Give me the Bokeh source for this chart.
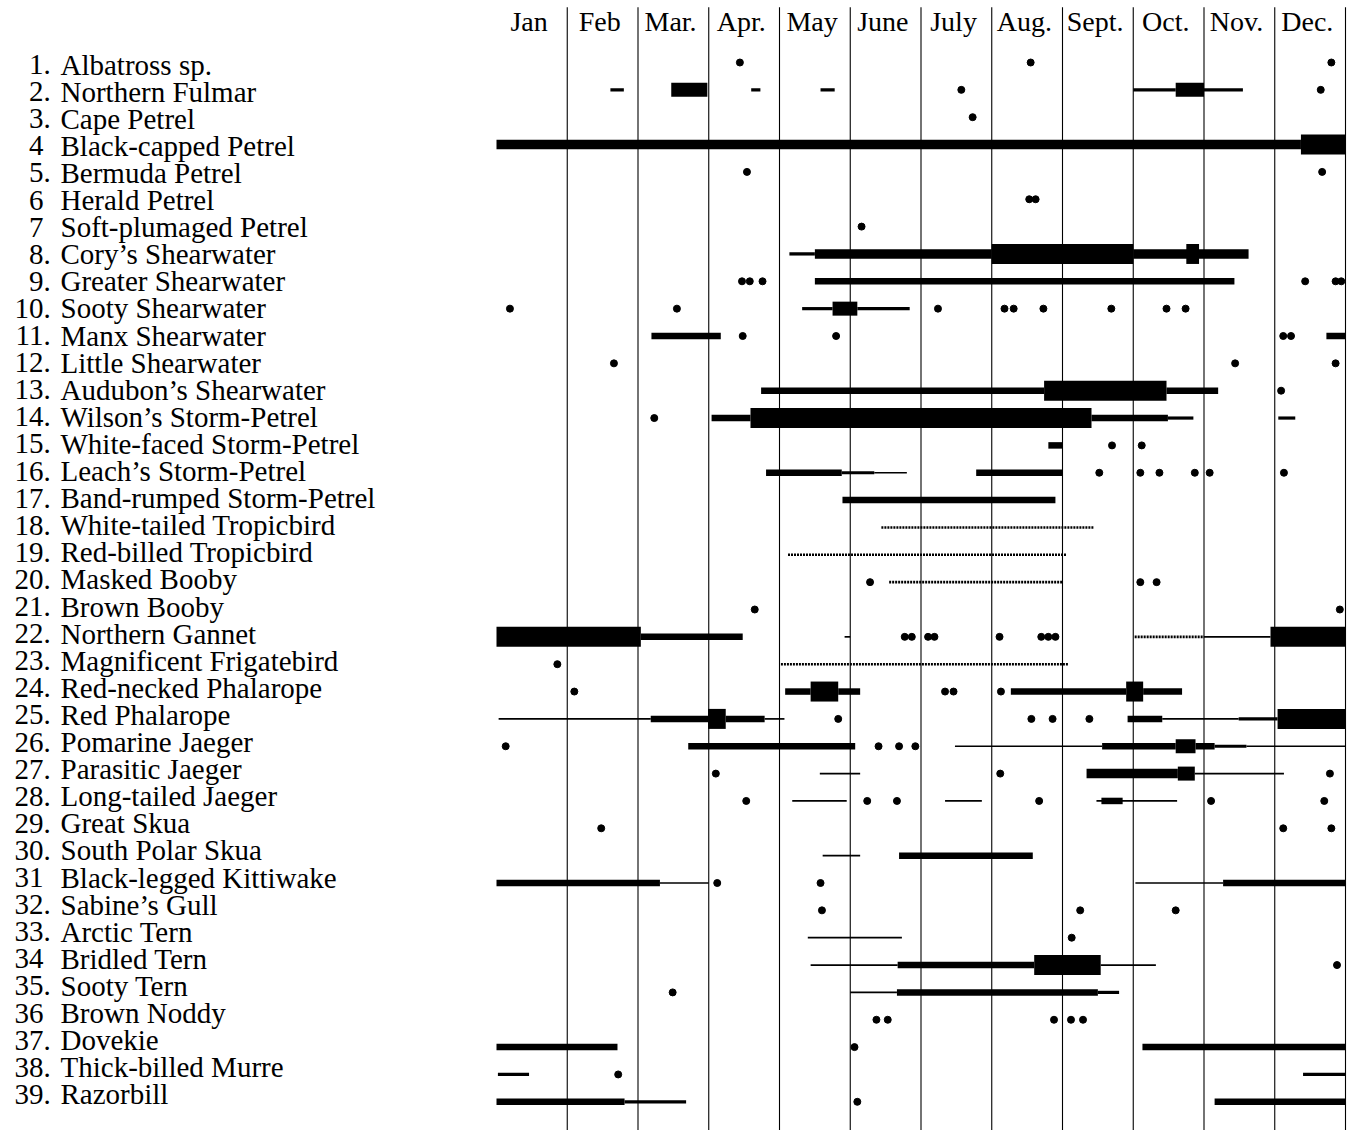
from bokeh.plotting import figure
from bokeh.models import ColumnDataSource, Range1d
from bokeh.embed import file_html
from bokeh.resources import INLINE
from bokeh.core.properties import value

# ---------------- data ----------------
months = ["Jan", "Feb", "Mar.", "Apr.", "May", "June", "July", "Aug.",
          "Sept.", "Oct.", "Nov.", "Dec."]

row_numbers = ["1.", "2.", "3.", "4", "5.", "6", "7", "8.", "9.", "10.",
               "11.", "12.", "13.", "14.", "15.", "16.", "17.", "18.", "19.", "20.",
               "21.", "22.", "23.", "24.", "25.", "26.", "27.", "28.", "29.", "30.",
               "31", "32.", "33.", "34", "35.", "36", "37.", "38.", "39."]

species = ["Albatross sp.", "Northern Fulmar", "Cape Petrel", "Black-capped Petrel",
           "Bermuda Petrel", "Herald Petrel", "Soft-plumaged Petrel", "Cory\u2019s Shearwater",
           "Greater Shearwater", "Sooty Shearwater", "Manx Shearwater", "Little Shearwater",
           "Audubon\u2019s Shearwater", "Wilson\u2019s Storm-Petrel", "White-faced Storm-Petrel",
           "Leach\u2019s Storm-Petrel", "Band-rumped Storm-Petrel", "White-tailed Tropicbird",
           "Red-billed Tropicbird", "Masked Booby", "Brown Booby", "Northern Gannet",
           "Magnificent Frigatebird", "Red-necked Phalarope", "Red Phalarope",
           "Pomarine Jaeger", "Parasitic Jaeger", "Long-tailed Jaeger", "Great Skua",
           "South Polar Skua", "Black-legged Kittiwake", "Sabine\u2019s Gull", "Arctic Tern",
           "Bridled Tern", "Sooty Tern", "Brown Noddy", "Dovekie", "Thick-billed Murre",
           "Razorbill"]

# occurrence periods: (row, start month, end month, abundance level)
# month scale: 0 = 1 Jan, 12 = 31 Dec ; levels L1 (rare) .. L6 (abundant), D = irregular
ranges = [
    (2, 1.61, 1.80, "L2"), (2, 2.47, 2.98, "L5"), (2, 3.60, 3.73, "L2"), (2, 4.58, 4.78, "L2"),
    (2, 9.00, 9.60, "L2"), (2, 9.60, 10.00, "L5"), (2, 10.00, 10.55, "L2"),
    (4, 0.00, 11.37, "L4"), (4, 11.37, 12.00, "L6"),
    (8, 4.14, 4.50, "L2"), (8, 4.50, 7.00, "L4"), (8, 7.00, 9.00, "L6"), (8, 9.00, 10.63, "L4"),
    (8, 9.75, 9.93, "L6"),
    (9, 4.50, 10.43, "L3"),
    (10, 4.32, 4.75, "L2"), (10, 4.75, 5.10, "L5"), (10, 5.10, 5.84, "L2"),
    (11, 2.19, 3.17, "L3"), (11, 11.73, 12.00, "L3"),
    (13, 3.74, 7.74, "L3"), (13, 7.74, 9.47, "L6"), (13, 9.47, 10.20, "L3"),
    (14, 3.04, 3.59, "L3"), (14, 3.59, 8.41, "L6"), (14, 8.41, 9.49, "L3"), (14, 9.49, 9.85, "L2"),
    (14, 11.05, 11.29, "L2"),
    (15, 7.80, 8.00, "L3"),
    (16, 3.81, 4.88, "L3"), (16, 4.88, 5.34, "L2"), (16, 5.34, 5.80, "L1"), (16, 6.78, 8.00, "L3"),
    (17, 4.89, 7.90, "L3"),
    (18, 5.44, 8.44, "D"),
    (19, 4.12, 8.05, "D"),
    (20, 5.55, 8.00, "D"),
    (22, 0.00, 2.04, "L6"), (22, 2.04, 3.48, "L3"), (22, 4.92, 5.00, "L1"), (22, 9.02, 10.00, "D"),
    (22, 10.00, 10.94, "L1"), (22, 10.94, 12.00, "L6"),
    (23, 4.02, 8.08, "D"),
    (24, 4.08, 4.44, "L3"), (24, 4.44, 4.83, "L6"), (24, 4.83, 5.14, "L3"), (24, 7.27, 8.90, "L3"),
    (24, 8.90, 9.14, "L6"), (24, 9.14, 9.69, "L3"),
    (25, 0.03, 2.18, "L1"), (25, 2.18, 2.99, "L3"), (25, 2.99, 3.24, "L6"), (25, 3.24, 3.79, "L3"),
    (25, 3.79, 4.07, "L1"), (25, 8.92, 9.41, "L3"), (25, 9.41, 10.49, "L1"), (25, 10.49, 11.04, "L2"),
    (25, 11.04, 12.00, "L6"),
    (26, 2.71, 5.07, "L3"), (26, 6.48, 8.56, "L1"), (26, 8.56, 9.60, "L3"), (26, 9.60, 9.88, "L5"),
    (26, 9.88, 10.15, "L3"), (26, 10.15, 10.60, "L2"), (26, 10.60, 12.00, "L1"),
    (27, 4.57, 5.14, "L1"), (27, 8.34, 9.63, "L4"), (27, 9.63, 9.87, "L5"), (27, 9.87, 11.13, "L1"),
    (28, 4.18, 4.95, "L1"), (28, 6.34, 6.86, "L1"), (28, 8.48, 9.62, "L1"), (28, 8.55, 8.85, "L3"),
    (30, 4.61, 5.14, "L1"), (30, 5.69, 7.58, "L3"),
    (31, 0.00, 2.31, "L3"), (31, 2.31, 3.00, "L1"), (31, 9.03, 10.27, "L1"), (31, 10.27, 12.00, "L3"),
    (33, 4.40, 5.73, "L1"),
    (34, 4.44, 5.67, "L1"), (34, 5.67, 7.60, "L3"), (34, 7.60, 8.54, "L6"), (34, 8.54, 9.32, "L1"),
    (35, 5.00, 5.66, "L1"), (35, 5.66, 8.50, "L3"), (35, 8.50, 8.80, "L2"),
    (37, 0.00, 1.71, "L3"), (37, 9.13, 12.00, "L3"),
    (38, 0.02, 0.46, "L2"), (38, 11.40, 12.00, "L2"),
    (39, 0.00, 1.81, "L3"), (39, 1.81, 2.68, "L2"), (39, 10.15, 12.00, "L3"),
]

# single records: (row, month)
sightings = [
    (1, 3.44), (1, 7.55), (1, 11.80),
    (2, 6.57), (2, 11.65),
    (3, 6.73),
    (5, 3.54), (5, 11.67),
    (6, 7.53), (6, 7.62),
    (7, 5.16),
    (9, 3.47), (9, 3.58), (9, 3.76), (9, 11.43), (9, 11.86), (9, 11.94),
    (10, 0.19), (10, 2.55), (10, 6.24), (10, 7.18), (10, 7.31), (10, 7.73), (10, 8.69),
    (10, 9.47), (10, 9.74),
    (11, 3.48), (11, 4.80), (11, 11.12), (11, 11.23),
    (12, 1.66), (12, 10.44), (12, 11.86),
    (13, 11.09),
    (14, 2.23),
    (15, 8.70), (15, 9.12),
    (16, 8.52), (16, 9.10), (16, 9.37), (16, 9.87), (16, 10.08), (16, 11.13),
    (20, 5.28), (20, 9.10), (20, 9.33),
    (21, 3.65), (21, 11.92),
    (22, 5.77), (22, 5.87), (22, 6.10), (22, 6.19), (22, 7.11), (22, 7.70), (22, 7.80), (22, 7.90),
    (23, 0.86),
    (24, 1.10), (24, 6.34), (24, 6.46), (24, 7.13),
    (25, 4.83), (25, 7.56), (25, 7.86), (25, 8.38),
    (26, 0.13), (26, 5.40), (26, 5.69), (26, 5.92),
    (27, 3.10), (27, 7.12), (27, 11.78),
    (28, 3.53), (28, 5.24), (28, 5.66), (28, 7.67), (28, 10.10), (28, 11.70),
    (29, 1.48), (29, 11.12), (29, 11.80),
    (31, 3.12), (31, 4.58),
    (32, 4.60), (32, 8.25), (32, 9.60),
    (33, 8.13),
    (34, 11.88),
    (35, 2.49),
    (36, 5.37), (36, 5.53), (36, 7.88), (36, 8.12), (36, 8.29),
    (37, 5.06),
    (38, 1.72),
    (39, 5.10),
]

# ---------------- layout / styles ----------------
W, H = 1353, 1130
PX_PER_MONTH = 70.75
JAN1_X = 496          # canvas px of 1 Jan
ROW_PX = 27.35        # vertical pitch of chart rows
ROW1_Y = 62           # canvas px of row 1
LABEL_PITCH = 27.1    # pitch of the text column
LABEL_ROW1_Y = 66

x_start = (0 - JAN1_X) / PX_PER_MONTH
x_end = x_start + W / PX_PER_MONTH
y_top = 1 + (0 - ROW1_Y) / ROW_PX
y_bot = y_top + H / ROW_PX

level_width = {"L1": 1.7, "L2": 3.2, "L3": 6.5, "L4": 9.5, "L5": 14.0, "L6": 20.0, "D": 2.6}
FONT = value("Liberation Serif")

p = figure(width=W, height=H, x_range=Range1d(x_start, x_end), y_range=Range1d(y_bot, y_top),
           output_backend="svg", toolbar_location=None, min_border=0,
           x_axis_location=None, y_axis_location=None)
p.grid.visible = False
p.outline_line_color = None
p.background_fill_color = "white"
p.border_fill_color = "white"

# month boundary rules
bounds = list(range(1, len(months) + 1))
p.segment(x0=bounds, y0=[y_top + 0.25] * len(bounds), x1=bounds, y1=[y_bot] * len(bounds),
          line_color="black", line_width=1.1)

# month headers
header_y = 1 + (21 - ROW1_Y) / ROW_PX
p.text(x=[i + 0.46 for i in range(len(months))], y=[header_y] * len(months), text=months,
       text_align="center", text_baseline="middle", text_font=FONT,
       text_font_size="28px", text_color="black")

# species labels (text column has its own slightly tighter pitch)
rows = list(range(1, len(species) + 1))
label_src = ColumnDataSource(dict(
    y=rows, x=[x_start] * len(rows), name=species,
    num=[n.rstrip(".") for n in row_numbers],
    dot=["." if n.endswith(".") else "" for n in row_numbers],
    yoff=[(LABEL_ROW1_Y + (r - 1) * LABEL_PITCH) - (ROW1_Y + (r - 1) * ROW_PX) - 2 for r in rows]))
common = dict(y="y", x="x", y_offset="yoff", text_baseline="middle", text_font=FONT,
              text_font_size="29px", text_color="black", source=label_src)
p.text(text="num", x_offset=43, text_align="right", **common)
p.text(text="dot", x_offset=43, text_align="left", **common)
p.text(text="name", x_offset=60, text_align="left", **common)

# occurrence bars
solid = [r for r in ranges if r[3] != "D"]
dotted = [r for r in ranges if r[3] == "D"]
solid_src = ColumnDataSource(dict(
    y=[r[0] for r in solid], x0=[r[1] for r in solid], x1=[r[2] for r in solid],
    w=[level_width[r[3]] for r in solid]))
p.segment(x0="x0", y0="y", x1="x1", y1="y", line_width="w", line_color="black",
          line_cap="butt", source=solid_src)
dotted_src = ColumnDataSource(dict(
    y=[r[0] for r in dotted], x0=[r[1] for r in dotted], x1=[r[2] for r in dotted]))
p.segment(x0="x0", y0="y", x1="x1", y1="y", line_width=level_width["D"], line_color="black",
          line_dash="2 1", line_cap="butt", source=dotted_src)

# single records
dots_src = ColumnDataSource(dict(y=[s[0] for s in sightings], x=[s[1] for s in sightings]))
p.scatter(x="x", y="y", size=7, marker="circle", fill_color="black", line_color="black",
          source=dots_src)

open("out.html", "w").write(file_html(p, INLINE))
